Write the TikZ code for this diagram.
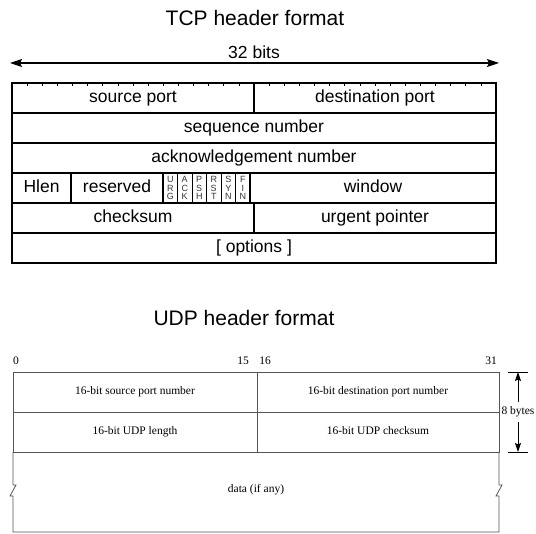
\documentclass[tikz,border=0pt]{standalone}
\usepackage{fontspec}
\setmainfont{Liberation Sans}
\newfontfamily\udpfont{Liberation Serif}
\usetikzlibrary{positioning,calc,arrows.meta}
\definecolor{UdpGray}{HTML}{555555}

\begin{document}
\begin{tikzpicture}[
  x=1pt, y=-1pt,
  title/.style={font=\fontsize{21}{21}\selectfont},
  tcpcell/.style={draw, line width=1.4pt, minimum height=30pt, inner sep=0pt, text height=12.5pt, text depth=3.5pt, font=\fontsize{17.5}{17.5}\selectfont},
  flagcell/.style={draw, line width=0.9pt, minimum width=14.5pt, minimum height=30pt, inner sep=0pt, align=center, text=black!80, font=\fontsize{9}{8.6}\selectfont},
  tick/.style={line width=0.6pt},
  udpcell/.style={draw=UdpGray, line width=0.8pt, minimum height=40pt, inner sep=0pt, text height=8.5pt, text depth=2.5pt, font=\udpfont\fontsize{11.5}{11.5}\selectfont},
  udplbl/.style={font=\udpfont\fontsize{11.5}{11.5}\selectfont},
  arr/.style={{Stealth[length=12pt,width=8pt,inset=2pt]}-{Stealth[length=12pt,width=8pt,inset=2pt]}, line width=1.2pt},
  barr/.style={-{Stealth[length=9pt,width=6pt,inset=1.5pt]}, line width=0.9pt}
]
\useasboundingbox (0,0) rectangle (536,534);

% TCP
\node[title] (tcptitle) at (255,18) {TCP header format};
\node[font=\fontsize{17.5}{17.5}\selectfont] (bits) at (254,52) {32 bits};
\coordinate (bitsL) at (10,63);
\coordinate (bitsR) at (499,63);
\draw[arr] (bitsL) -- (bitsR);

\node[tcpcell, minimum width=242pt] (srcport) at (133,98) {source port};
\node[tcpcell, minimum width=242pt] (dstport) at (375,98) {destination port};
\node[tcpcell, minimum width=484pt] (seqnum) at (254,128) {sequence number};
\node[tcpcell, minimum width=484pt] (acknum) at (254,158) {acknowledgement number};
\node[tcpcell, minimum width=59pt] (hlen) at (41.5,188) {Hlen};
\node[tcpcell, minimum width=92pt] (reserved) at (117,188) {reserved};
\foreach \a/\b/\c [count=\i from 0] in {U/R/G, A/C/K, P/S/H, R/S/T, S/Y/N, F/I/N}
  \node[flagcell] (flag\i) at ({170.25+14.5*\i},188) {\a\\\b\\\c};
\node[tcpcell, minimum width=246pt] (window) at (373,188) {window};
\node[tcpcell, minimum width=242pt] (checksum) at (133,218) {checksum};
\node[tcpcell, minimum width=242pt] (urgent) at (375,218) {urgent pointer};
\node[tcpcell, minimum width=484pt] (options) at (254,248) {[ options ]};
\foreach \k in {1,...,31}
  \draw[tick] ({12+15.125*\k},83) -- ++(0,3);

% UDP
\node[title] (udptitle) at (244,318) {UDP header format};
\node[udplbl] (bit0) at (16,361) {0};
\node[udplbl] (bit15) at (243,361) {15};
\node[udplbl] (bit16) at (265,361) {16};
\node[udplbl] (bit31) at (491,361) {31};

\node[udpcell, minimum width=244pt] (usrc) at (135,392) {16-bit source port number};
\node[udpcell, minimum width=242pt] (udst) at (378,392) {16-bit destination port number};
\node[udpcell, minimum width=244pt] (ulen) at (135,432) {16-bit UDP length};
\node[udpcell, minimum width=242pt] (usum) at (378,432) {16-bit UDP checksum};
\draw[draw=UdpGray, line width=0.8pt] (13,452) -- (13,485) -- (16,485) -- (10,496) -- (13,496) -- (13,532)
  -- (499,532) -- (499,496) -- (496,496) -- (502,485) -- (499,485) -- (499,452);
\node[udplbl] (data) at (256,490) {data (if any)};

\coordinate (bytesT) at (518,372);
\coordinate (bytesB) at (518,452);
\draw[line width=0.8pt] (508,372) -- (528,372);
\draw[line width=0.8pt] (508,452) -- (528,452);
\node[udplbl, inner sep=1pt] (bytes) at (518,412) {8 bytes};
\draw[barr, shorten <=4pt] (bytes.north) -- (bytesT);
\draw[barr, shorten <=4pt] (bytes.south) -- (bytesB);
\end{tikzpicture}
\end{document}
